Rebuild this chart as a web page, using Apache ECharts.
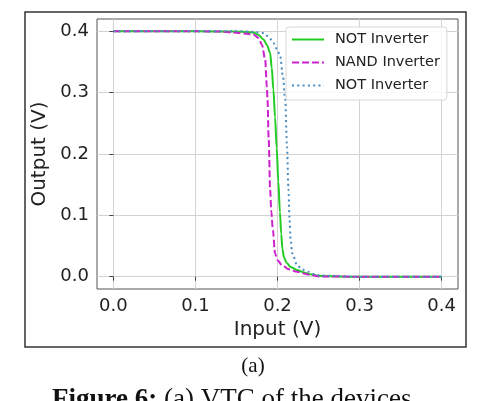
<!DOCTYPE html>
<html>
<head>
<meta charset="utf-8">
<script src="https://cdn.jsdelivr.net/npm/echarts@6/dist/echarts.min.js"></script>
<style>
  html, body { margin: 0; padding: 0; background: #fff; }
  #main { width: 478px; height: 401px; }
</style>
</head>
<body>
<div id="main"></div>
<script>
// tick labels
const xTicks = [0, 0.1, 0.2, 0.3, 0.4];
const yTicks = [0, 0.1, 0.2, 0.3, 0.4];
const legendLabels = ["NOT Inverter", "NAND Inverter", "NOT Inverter"];

// NOT inverter (solid green)
const notAX = [0, 0.1, 0.15, 0.162, 0.1707, 0.177, 0.183, 0.187, 0.191, 0.193, 0.195, 0.197, 0.199, 0.201, 0.203, 0.2045, 0.206, 0.208, 0.2115, 0.216, 0.2237, 0.232, 0.24, 0.252, 0.3, 0.4];
const notAY = [0.4, 0.4, 0.3995, 0.399, 0.398, 0.394, 0.3865, 0.378, 0.365, 0.34, 0.305, 0.26, 0.21, 0.155, 0.105, 0.07, 0.045, 0.031, 0.0219, 0.016, 0.011, 0.007, 0.004, 0.001, 0, 0];

// NAND inverter (dashed magenta)
const nandX = [0, 0.1, 0.13, 0.146, 0.16, 0.1707, 0.177, 0.181, 0.185, 0.187, 0.1878, 0.1893, 0.191, 0.1925, 0.1944, 0.197, 0.2, 0.2053, 0.214, 0.2237, 0.24, 0.252, 0.3, 0.4];
const nandY = [0.4, 0.4, 0.3995, 0.398, 0.3965, 0.3946, 0.389, 0.378, 0.354, 0.31, 0.2885, 0.223, 0.1415, 0.105, 0.076, 0.038, 0.027, 0.019, 0.012, 0.008, 0.003, 0.0005, 0, 0];

// second NOT inverter (dotted blue)
const notBX = [0, 0.1, 0.155, 0.17, 0.183, 0.19, 0.195, 0.2, 0.2033, 0.2066, 0.2094, 0.2115, 0.2134, 0.2146, 0.216, 0.218, 0.2237, 0.23, 0.2378, 0.245, 0.252, 0.3, 0.4];
const notBY = [0.4, 0.4, 0.4, 0.399, 0.397, 0.39, 0.381, 0.369, 0.359, 0.3265, 0.2885, 0.215, 0.1415, 0.095, 0.06, 0.038, 0.019, 0.012, 0.008, 0.004, 0.002, 0, 0];

function zip(xs, ys) {
  return xs.map((x, i) => [x, ys[i]]);
}

const font = "DejaVu Sans";
const serif = "Liberation Serif";
const labelMap = { notA: legendLabels[0], nand: legendLabels[1], notB: legendLabels[2] };

function makeSeries(name, data, color, dash) {
  return {
    name: name,
    type: "line",
    data: data,
    symbol: "none",
    smooth: 0.3,
    smoothMonotone: "x",
    lineStyle: { color: color, width: 2, type: dash },
    itemStyle: { color: color },
    z: 3
  };
}

const options = {
  animation: false,
  backgroundColor: "#fff",
  grid: {
    left: 97, top: 19, right: 20, bottom: 112,
    show: true, borderColor: "#555", borderWidth: 1, backgroundColor: "transparent"
  },
  legend: {
    orient: "vertical",
    left: 286, top: 27,
    padding: [5, 7, 7, 5],
    itemWidth: 32, itemHeight: 14, itemGap: 8,
    backgroundColor: "rgba(255,255,255,0.85)",
    borderColor: "#d8d8d8", borderWidth: 1, borderRadius: 3,
    itemStyle: { color: "transparent", borderColor: "transparent", borderWidth: 0 },
    lineStyle: { width: 2 },
    textStyle: { fontFamily: font, fontSize: 14.5, color: "#222", padding: [0, 0, 0, 6] },
    formatter: (n) => labelMap[n],
    data: ["notA", "nand", "notB"]
  },
  xAxis: {
    type: "value",
    min: -0.02, max: 0.42,
    name: "Input (V)",
    nameLocation: "middle",
    nameGap: 29,
    nameTextStyle: { fontFamily: font, fontSize: 20, color: "#222" },
    axisLine: { show: false },
    axisTick: { show: true, length: 4, inside: false, customValues: xTicks, lineStyle: { color: "#444" } },
    axisLabel: { customValues: xTicks, fontFamily: font, fontSize: 18, color: "#222", margin: 8, formatter: (v) => v.toFixed(1) },
    splitLine: { show: true, lineStyle: { color: "#d3d3d3", width: 1 } }
  },
  yAxis: {
    type: "value",
    min: -0.02, max: 0.42,
    name: "Output (V)",
    nameLocation: "middle",
    nameGap: 41,
    nameTextStyle: { fontFamily: font, fontSize: 20, color: "#222" },
    axisLine: { show: false },
    axisTick: { show: true, length: 4, inside: false, customValues: yTicks, lineStyle: { color: "#444" } },
    axisLabel: { customValues: yTicks, fontFamily: font, fontSize: 18, color: "#222", margin: 8, formatter: (v) => v.toFixed(1) },
    splitLine: { show: true, lineStyle: { color: "#d3d3d3", width: 1 } }
  },
  series: [
    makeSeries("notA", zip(notAX, notAY), "#22cc22", "solid"),
    makeSeries("nand", zip(nandX, nandY), "#cc22cc", [7, 3]),
    makeSeries("notB", zip(notBX, notBY), "#4a8cc0", [2, 3.3])
  ],
  graphic: [
    {
      type: "rect",
      shape: { x: 25, y: 12, width: 441, height: 335 },
      style: { fill: null, stroke: "#333", lineWidth: 1.5 },
      silent: true
    },
    {
      type: "text",
      x: 253, y: 366,
      style: {
        text: "(a)", fontFamily: serif, fontSize: 21, fill: "#111",
        align: "center", verticalAlign: "middle"
      }
    },
    {
      type: "text",
      x: 52, y: 400,
      style: {
        text: "{b|Figure 6:} (a) VTC of the devices",
        fontFamily: serif, fontSize: 27, fill: "#111",
        align: "left", verticalAlign: "middle",
        rich: { b: { fontFamily: serif, fontSize: 27, fontWeight: "bold", fill: "#111" } }
      }
    }
  ]
};

var myChart = echarts.init(document.getElementById("main"));
myChart.setOption(options);
window.onresize = function() {
  myChart.resize();
};
</script>
</body>
</html>
